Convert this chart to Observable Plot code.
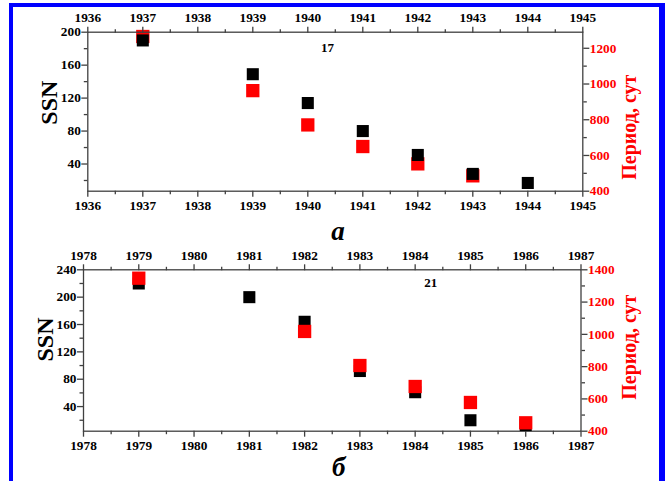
<!DOCTYPE html>
<html><head><meta charset="utf-8">
<script src="https://cdn.jsdelivr.net/npm/d3@7"></script>
<script src="https://cdn.jsdelivr.net/npm/@observablehq/plot@0.6"></script>
<style>
html,body{margin:0;padding:0;background:#fff;}
#wrap{position:relative;width:669px;height:481px;overflow:hidden;background:#fff;}
#border{position:absolute;left:9px;top:3px;width:646px;height:520px;border-left:4px solid #0000ff;border-top:4px solid #0000ff;border-right:6px solid #0000ff;}
</style></head><body><div id="wrap"><div id="border"></div></div>
<script>
// ---- Panel а (cycle 17) ----
const ssnYears1 = [1937, 1939, 1940, 1941, 1942, 1943, 1944];
const ssn1 = [190, 149, 114, 80, 51, 28, 17];
const periodYears1 = [1937, 1939, 1940, 1941, 1942, 1943];
const period1 = [1266, 963, 771, 650, 553, 486];
const xDomain1 = [1936, 1945];
const ssnDomain1 = [7, 200];
const ssnTicks1 = [40, 80, 120, 160, 200];
const periodDomain1 = [400, 1290];
const periodTicks1 = [400, 600, 800, 1000, 1200];
const annoX1 = [1940.36], annoY1 = [181.5], annoText1 = ["17"];

// ---- Panel б (cycle 21) ----
const ssnYears2 = [1979, 1981, 1982, 1983, 1984, 1985, 1986];
const ssn2 = [220, 200, 164, 92, 61, 20, 13];
const periodYears2 = [1979, 1982, 1983, 1984, 1985, 1986];
const period2 = [1348, 1018, 807, 677, 578, 452];
const xDomain2 = [1978, 1987];
const ssnDomain2 = [4, 240];
const ssnTicks2 = [40, 80, 120, 160, 200, 240];
const periodDomain2 = [400, 1400];
const periodTicks2 = [400, 600, 800, 1000, 1200, 1400];
const annoX2 = [1984.28], annoY2 = [221.4], annoText2 = ["21"];

const ssnLabel = "SSN";
const periodLabel = "Период, сут";

const FONT = "'Liberation Serif','Times New Roman',serif";
const AX = "#404040";
const wrap = document.getElementById("wrap");

function minorBetween(ticks, domain) {
  const step = ticks[1] - ticks[0];
  const out = [];
  for (let v = ticks[0] - step / 2; v <= domain[1]; v += step) if (v >= domain[0]) out.push(v);
  return out;
}

function panel(o) {
  const xTicks = d3.range(o.xDomain[0], o.xDomain[1] + 1);
  const xMinor = d3.range(o.xDomain[0] + 0.5, o.xDomain[1], 1);
  const common = {
    width: 669, height: o.height,
    marginLeft: o.mL, marginRight: o.mR, marginTop: o.mT, marginBottom: o.mB,
    x: {domain: o.xDomain, axis: null},
  };
  const style = {position: "absolute", left: "0px", top: o.top + "px", background: "none",
    fontFamily: FONT, fontSize: "13px", fontWeight: "bold", color: "#000", overflow: "visible", maxWidth: "none"};
  const txt = {fontFamily: FONT, fontWeight: "bold", fontSize: 13.3};

  const ssnPlot = Plot.plot({
    ...common,
    y: {domain: o.ssnDomain, axis: null},
    style,
    marks: [
      Plot.frame({stroke: AX, strokeWidth: 1.3}),
      Plot.axisX({anchor: "bottom", ticks: xTicks, tickFormat: d => String(d), tickSize: 6, tickPadding: 3, stroke: AX, strokeWidth: 1.3, fill: "#000", label: null, ...txt}),
      Plot.axisX({anchor: "bottom", ticks: xMinor, tickFormat: () => "", tickSize: 3.5, stroke: AX, strokeWidth: 1.3, label: null}),
      Plot.axisX({anchor: "top", ticks: xTicks, tickFormat: d => String(d), tickSize: 6, tickPadding: 4, stroke: AX, strokeWidth: 1.3, fill: "#000", label: null, ...txt}),
      Plot.axisX({anchor: "top", ticks: xMinor, tickFormat: () => "", tickSize: 3.5, stroke: AX, strokeWidth: 1.3, label: null}),
      Plot.axisY({anchor: "left", ticks: o.ssnTicks, tickFormat: d => String(d), tickSize: 6, tickPadding: 1, stroke: AX, strokeWidth: 1.3, fill: "#000", label: null, ...txt}),
      Plot.axisY({anchor: "left", ticks: minorBetween(o.ssnTicks, o.ssnDomain), tickFormat: () => "", tickSize: 3.5, stroke: AX, strokeWidth: 1.3, label: null}),
      Plot.dot(o.ssnYears, {x: o.ssnYears, y: o.ssn, symbol: "square", r: 6.8, fill: "#000", stroke: "none"}),
      Plot.text(o.annoText, {x: o.annoX, y: o.annoY, text: d => d, ...txt, fontSize: 13, fill: "#000"}),
      Plot.text([ssnLabel], {frameAnchor: "left", text: d => d, dx: o.ssnDx, dy: o.ssnDy, rotate: -90, textAnchor: "middle", lineAnchor: "middle", fontFamily: FONT, fontWeight: "bold", fontSize: 24, fill: "#000"}),
      Plot.text([o.letter], {frameAnchor: "bottom", text: d => d, dx: o.letterDx, dy: o.letterDy, textAnchor: "middle", lineAnchor: "middle", fontFamily: FONT, fontWeight: "bold", fontStyle: "italic", fontSize: 27, fill: "#000"})
    ]
  });

  const perPlot = Plot.plot({
    ...common,
    y: {domain: o.periodDomain, axis: null},
    style,
    marks: [
      Plot.axisY({anchor: "right", ticks: o.periodTicks, tickFormat: d => String(d), tickSize: 6, tickPadding: 1, stroke: AX, strokeWidth: 1.3, fill: "#ff0000", label: null, ...txt}),
      Plot.axisY({anchor: "right", ticks: minorBetween(o.periodTicks, o.periodDomain), tickFormat: () => "", tickSize: 3.5, stroke: AX, strokeWidth: 1.3, label: null}),
      Plot.dot(o.periodYears, {x: o.periodYears, y: o.period, symbol: "square", r: 7.5, fill: "#ff0000", stroke: "none"}),
      Plot.text([periodLabel], {frameAnchor: "right", text: d => d, dx: o.perDx, dy: o.perDy, rotate: -90, textAnchor: "middle", lineAnchor: "middle", fontFamily: FONT, fontWeight: "bold", fontSize: 20, fill: "#ff0000"})
    ]
  });

  if (o.redOnTop) { wrap.appendChild(ssnPlot); wrap.appendChild(perPlot); }
  else { wrap.appendChild(perPlot); wrap.appendChild(ssnPlot); }
}

panel({
  top: 0, height: 240, mL: 87.3, mR: 86.7, mT: 31.7, mB: 49.3,
  xDomain: xDomain1, ssnDomain: ssnDomain1, ssnTicks: ssnTicks1,
  periodDomain: periodDomain1, periodTicks: periodTicks1,
  ssnYears: ssnYears1, ssn: ssn1, periodYears: periodYears1, period: period1,
  annoX: annoX1, annoY: annoY1, annoText: annoText1,
  letter: "а", letterDx: 2.7, letterDy: 40,
  ssnDx: -38, ssnDy: -9, perDx: 47, perDy: 15.5,
  redOnTop: false
});
panel({
  top: 240, height: 241, mL: 83, mR: 88.5, mT: 29.3, mB: 50.3,
  xDomain: xDomain2, ssnDomain: ssnDomain2, ssnTicks: ssnTicks2,
  periodDomain: periodDomain2, periodTicks: periodTicks2,
  ssnYears: ssnYears2, ssn: ssn2, periodYears: periodYears2, period: period2,
  annoX: annoX2, annoY: annoY2, annoText: annoText2,
  letter: "б", letterDx: 6.5, letterDy: 36,
  ssnDx: -38.5, ssnDy: -11, perDx: 48.5, perDy: -3.3,
  redOnTop: true
});
</script></body></html>
